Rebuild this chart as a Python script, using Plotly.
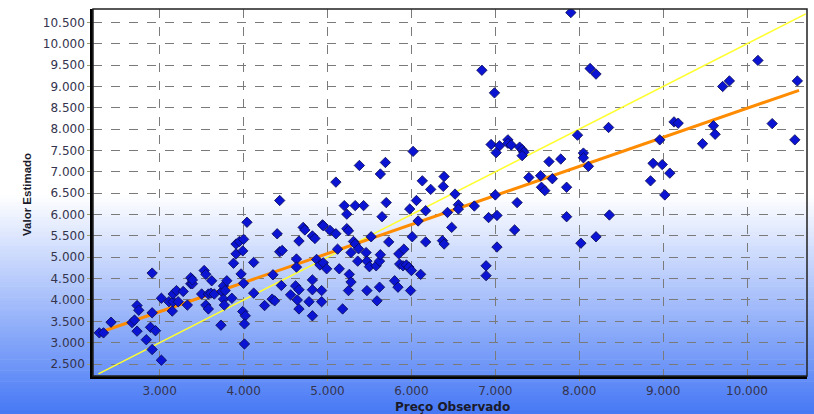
import plotly.graph_objects as go

# ---- data ----
obs = [2280, 2330, 2420, 2670, 2700, 2730, 2750, 2730, 2840, 2910, 3020, 2910, 2910, 2890, 2950,
       3020, 3110, 3160, 3220, 3150, 3160, 3200, 3280, 3330, 3370, 3390, 3370, 3390, 3500, 3530,
       3550, 3550, 3580, 3580, 3610, 3650, 3620, 3730, 3740, 3760, 3800, 3760, 3770, 3780, 3860,
       3880, 3910, 3910, 3950, 4000, 3990, 4040, 3970, 4000, 3990, 4020, 4010, 4010, 4120, 4120,
       4250, 4350, 4340, 4370, 4430, 4400, 4430, 4460, 4450, 4560, 4630, 4630, 4660, 4620, 4660,
       4640, 4660,
       6020, 5380, 5690, 5630, 5100, 5200, 5330, 5430, 5230, 5700, 5650, 6130, 6230, 6390, 6380,
       6060, 5980, 6170, 6080, 6520, 6560, 6560, 6430, 6750, 6920, 6480, 4710, 4730, 4940, 4950,
       5030, 5100, 5230, 5250, 4820, 4850, 5120, 5310, 5330, 5520, 5370, 5730, 6010, 6170, 6370,
       6390, 4870, 4910, 4950, 4990, 5280, 5360, 5460, 5470, 5500, 5580, 5620, 5630, 5140, 5850,
       5910, 5860, 5900, 5940, 5970, 6000, 6110, 5260, 5280, 5800, 5840, 5620, 5470, 5250, 5590,
       5990, 5180, 4780, 4930, 4820, 4820, 4930, 4820, 6890, 6890,
       8350, 7980, 9130, 9180, 8960, 6950, 7050, 7150, 7150, 7190, 7290, 7320, 7340, 7010, 7320,
       8050, 8050, 8110, 7640, 7780, 7400, 7540, 7680, 7550, 7590, 7850, 7000, 7260, 7020, 7230,
       7020, 7850, 8020, 8200, 8360, 8880, 8990, 9080, 8850, 9020,
       10130, 9710, 9790, 10600, 9600, 9620, 9470, 10300, 10570,
       7900, 6840, 6990, 8130, 8200]
est = [3230, 3230, 3480, 3470, 3530, 3870, 3760, 3270, 3070, 2840, 2590, 4630, 3700, 3360, 3280,
       4040, 3960, 3960, 3960, 3740, 4140, 4220, 4200, 3880, 4380, 4380, 4520, 4470, 4140, 4690,
       4600, 3880, 3790, 4140, 4160, 4140, 4450, 3410, 4200, 4330, 4450, 4020, 3880, 4220, 4040,
       4860, 5080, 5310, 5370, 5420, 5150, 5820, 4610, 4390, 3730, 3630, 3440, 2970, 4880, 4160,
       3870, 4590, 4020, 3980, 6330, 5550, 5130, 5160, 4340, 4120, 4960, 4770, 5380, 4330, 4240,
       4000, 3790,
       7480, 7150, 7220, 6950, 6760, 6210, 6210, 6210, 6010, 6280, 5950, 6790, 6590, 6890, 6660,
       6330, 6130, 6090, 5850, 6480, 6230, 6130, 6050, 6200, 5930, 5700, 5700, 5640, 5760, 5740,
       5630, 5550, 5670, 5620, 5500, 5440, 5190, 5370, 5310, 5480, 5200, 5360, 5480, 5360, 5390,
       5310, 4950, 4820, 4870, 4730, 5110, 4910, 5110, 4910, 4780, 4800, 4910, 5060, 4730, 5080,
       5190, 4840, 4800, 4820, 4770, 4690, 4600, 4600, 4420, 4450, 4300, 4300, 4220, 4220, 3980,
       4220, 3790, 3960, 3960, 4470, 4240, 4220, 3630, 4800, 4570,
       8040, 7860, 8170, 8140, 7750, 7640, 7610, 7750, 7670, 7630, 7580, 7520, 7460, 7450, 7380,
       7440, 7330, 7130, 7240, 7300, 6870, 6910, 6840, 6640, 6560, 6640, 6460, 6280, 5980, 5640,
       5240, 5950, 5330, 5480, 5990, 7200, 7170, 6970, 6790, 6460,
       9610, 9000, 9130, 9130, 8080, 7880, 7660, 8130, 7750,
       10730, 9380, 8850, 9420, 9290]

fit_x = [2300, 10620]
fit_y = [3250, 8910]
ident_x = [2270, 10700]
ident_y = [2270, 10700]

x_ticks = list(range(3000, 10001, 1000))
y_ticks = list(range(2500, 10501, 500))

x_title = "Preço Observado"
y_title = "Valor Estimado"

fig = go.Figure()

fig.add_trace(go.Scatter(x=ident_x, y=ident_y, mode="lines",
                         line=dict(color="#ffff30", width=1.5), showlegend=False))
fig.add_trace(go.Scatter(x=fit_x, y=fit_y, mode="lines",
                         line=dict(color="#ff8c00", width=3), showlegend=False))
fig.add_trace(go.Scatter(x=obs, y=est, mode="markers",
                         marker=dict(symbol="diamond", size=8, color="#0a14d2",
                                     line=dict(color="#0a0a50", width=0.8)),
                         showlegend=False))

# gradient background (white top -> blue bottom), drawn as paper bands
W, H = 814, 414
L, R, T, B = 93, 7, 9, 38
ph = H - T - B
pw = W - L - R
def py(ypx):
    return (H - B - ypx) / ph
def px(xpx):
    return (xpx - L) / pw
shapes = []
y_start, y_end = 195, 414
n = 60
c0 = (255, 255, 255)
c1 = (70, 120, 245)
shapes.append(dict(type="rect", xref="paper", yref="paper", x0=px(-2), x1=px(W + 2),
                   y0=py(y_start), y1=py(-2), fillcolor="white", line=dict(width=0), layer="below"))
for i in range(n):
    a = y_start + (y_end - y_start) * i / n
    b = y_start + (y_end - y_start) * (i + 1) / n
    f = (i + 0.5) / n
    col = tuple(int(round(c0[k] + (c1[k] - c0[k]) * f)) for k in range(3))
    shapes.append(dict(type="rect", xref="paper", yref="paper",
                       x0=px(-2), x1=px(W + 2),
                       y0=py(b + 0.6), y1=py(a),
                       fillcolor="rgb(%d,%d,%d)" % col, line=dict(width=0), layer="below"))
# plot frame
shapes.append(dict(type="rect", xref="paper", yref="paper", x0=0, x1=1, y0=0, y1=1,
                   line=dict(color="#202020", width=1.5), layer="above"))

tickfont = dict(family="DejaVu Sans, Verdana, sans-serif", size=12, color="#34344e")
annotations = [
    dict(text="<b>%s</b>" % x_title, xref="paper", yref="paper", x=px(452), y=py(407),
         showarrow=False, xanchor="center", yanchor="middle",
         font=dict(family="DejaVu Sans, Arial, sans-serif", size=12, color="#1a1a2a")),
    dict(text="<b>%s</b>" % y_title, xref="paper", yref="paper", x=px(27), y=py(195),
         showarrow=False, xanchor="center", yanchor="middle", textangle=-90,
         font=dict(family="Liberation Sans, Arial, sans-serif", size=11.5, color="#1a1a2a")),
]

fig.update_layout(
    width=W, height=H,
    margin=dict(l=L, r=R, t=T, b=B),
    paper_bgcolor="white",
    plot_bgcolor="rgba(0,0,0,0)",
    separators=",.",
    shapes=shapes,
    annotations=annotations,
    hovermode=False,
    xaxis=dict(range=[2205, 10715], tickvals=x_ticks, tickformat=",d",
               showgrid=True, gridcolor="#7a7a7a", griddash="dash", gridwidth=1,
               zeroline=False, showline=True, linecolor="black", linewidth=2.5,
               ticks="outside", ticklen=2, tickcolor="#9a9a70",
               tickfont=tickfont),
    yaxis=dict(range=[2220, 10814], tickvals=y_ticks, tickformat=",d",
               showgrid=True, gridcolor="#7a7a7a", griddash="dash", gridwidth=1,
               zeroline=False, showline=True, linecolor="black", linewidth=2.5,
               ticks="outside", ticklen=3, tickcolor="#9a9a70",
               tickfont=tickfont),
)

fig.write_html("out.html", config={"displayModeBar": False},
               post_script="document.body.style.margin='0';document.body.style.overflow='hidden';")
